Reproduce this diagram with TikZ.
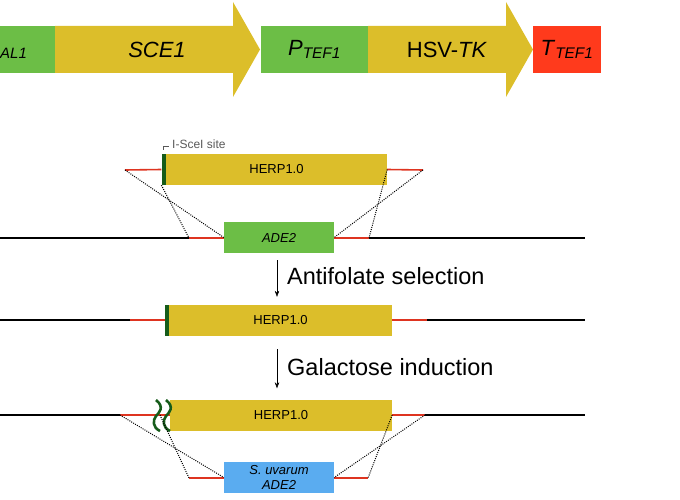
\documentclass[tikz,border=0pt]{standalone}
\usepackage{fontspec}
\setmainfont{Liberation Sans}
\usetikzlibrary{positioning,arrows.meta}

\definecolor{genegreen}{RGB}{108,190,70}
\definecolor{geneyellow}{RGB}{220,190,42}
\definecolor{termred}{RGB}{255,58,28}
\definecolor{uvblue}{RGB}{90,172,240}
\definecolor{flankred}{RGB}{222,52,32}
\definecolor{sitegreen}{RGB}{22,92,26}

\tikzset{
  topbox/.style={inner sep=0pt, minimum height=47pt, font=\fontsize{22}{26}\selectfont},
  bigtext/.style={inner sep=0pt, font=\fontsize{22}{26}\selectfont},
  gene/.style={inner sep=0pt, minimum height=31pt, font=\fontsize{13}{15}\selectfont},
  site/.style={fill=sitegreen, inner sep=0pt, minimum width=4pt, minimum height=31pt},
  flank/.style={flankred, line width=1.6pt},
  chrom/.style={black, line width=1.6pt},
  homol/.style={dash pattern=on 1pt off 1.2pt, line width=1pt},
  steplabel/.style={inner sep=0pt, anchor=base west, font=\fontsize{23.5}{28}\selectfont},
  cutmark/.style={sitegreen, line width=2.6pt}
}

\begin{document}
\begin{tikzpicture}[x=1pt,y=-1pt, >={Stealth[length=6pt,width=4.5pt]}]
\useasboundingbox (0,0) rectangle (680,500);
\clip (0,0) rectangle (680,500);
%\draw[help lines, color=gray!30, dashed] (0,0) grid[step=20pt] (680,500);
% cassette
\fill[genegreen] (-20,26) rectangle (55,73);
\node[inner sep=0pt, anchor=west, font=\fontsize{15}{17}\selectfont\itshape] (pgal) at (0,53) {AL1};
\fill[geneyellow] (55,26) -- (233,26) -- (233,2) -- (260,49.5) -- (233,97) -- (233,73) -- (55,73) -- cycle;
\node[bigtext] (sce) at (157,50) {\itshape SCE1};
\node[topbox, fill=genegreen, minimum width=107pt] (ptef) at (314.5,49.5) {\textit{P}\textsubscript{\itshape TEF1}};
\fill[geneyellow] (368,26) -- (506,26) -- (506,2) -- (533,49.5) -- (506,97) -- (506,73) -- (368,73) -- cycle;
\node[bigtext] (tk) at (447,50) {HSV-\textit{TK}};
\node[topbox, fill=termred, minimum width=68pt] (ttef) at (567,49.5) {\textit{T}\textsubscript{\itshape TEF1}};

% donor
\node[gene, fill=geneyellow, minimum width=221pt] (herpA) at (276.5,169.5) {HERP1.0};
\node[site, anchor=east] (siteA) at (herpA.west) {};
\coordinate (flA1) at (125,170);
\coordinate (flA2) at (423,170);
\draw[flank] (flA1) -- (siteA.west);
\draw[flank] (herpA.east) -- (flA2);
\node[inner sep=0pt, anchor=base west, text=gray!70!black, font=\fontsize{12}{14}\selectfont] (sitelabel) at (172,148.5) {I-SceI site};
\draw[gray!70!black, line width=0.5pt] ([yshift=4pt]siteA.north) -- ++(0,-4) -- ++(5,0);

% locus
\draw[chrom] (0,238) -- (585,238);
\coordinate (lwA1) at (189,238);
\coordinate (lwA2) at (369,238);
\draw[flank] (lwA1) -- (334,238);
\draw[flank] (224,238) -- (lwA2);
\node[gene, fill=genegreen, minimum width=110pt] (adeA) at (279,237.5) {\itshape ADE2};
\draw[homol] (flA1) -- (adeA.west);
\draw[homol] (siteA.south west) -- (lwA1);
\draw[homol] (herpA.east) -- (lwA2);
\draw[homol] (flA2) -- (adeA.east);

% integrated
\draw[chrom] (0,320) -- (585,320);
\coordinate (flB1) at (130,320);
\coordinate (flB2) at (427,320);
\draw[flank] (flB1) -- (flB2);
\node[gene, fill=geneyellow, minimum width=223pt] (herpB) at (280.5,320.5) {HERP1.0};
\node[site, anchor=east] (siteB) at (herpB.west) {};
\draw[->] ([shift={(-2pt,-7pt)}]adeA.south) -- ([shift={(-3.5pt,8pt)}]herpB.north);
\node[steplabel] (antifol) at (287,284) {Antifolate selection};

% after cut
\draw[chrom] (0,415) -- (585,415);
\coordinate (flC1) at (120,415);
\coordinate (flC2) at (425,415);
\coordinate (cutC) at (160,415);
\draw[flank] (flC1) -- (flC2);
\node[gene, fill=geneyellow, minimum width=222pt] (herpC) at (281,415) {HERP1.0};
\foreach \x in {156,166}
  \draw[cutmark] (\x,400) .. controls (\x+9,407) and (\x+3,413) .. (\x,416) .. controls (\x-3,420) and (\x-4,427) .. (\x+4,431);
\draw[->] ([shift={(-3.5pt,-13pt)}]herpB.south) -- ([shift={(-4pt,11pt)}]herpC.north);
\node[steplabel] (galind) at (287,375) {Galactose induction};

% replacement
\coordinate (lwC1) at (189,478);
\coordinate (lwC2) at (368,478);
\draw[flank] (lwC1) -- (lwC2);
\node[gene, fill=uvblue, minimum width=110pt, align=center, font=\fontsize{13}{15}\selectfont\itshape] (adeC) at (279,477.5) {S. uvarum\\ADE2};
\draw[homol] (flC1) -- (adeC.west);
\draw[homol] (cutC) -- (lwC1);
\draw[homol] (herpC.east) -- (lwC2);
\draw[homol] (flC2) -- (adeC.east);
\end{tikzpicture}
\end{document}
